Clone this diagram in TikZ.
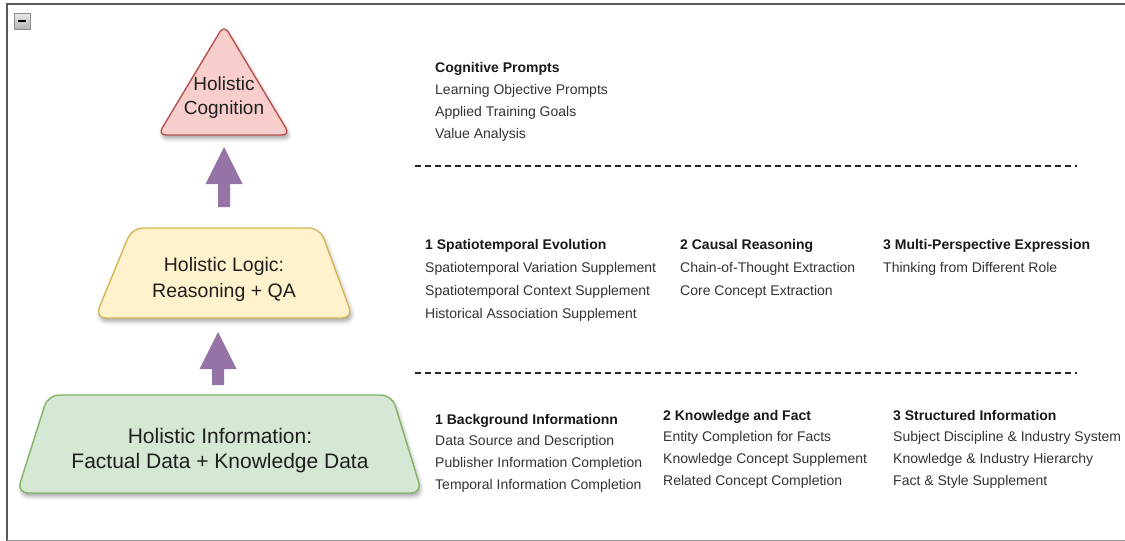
\documentclass[tikz,border=0pt]{standalone}
\usepackage{fontspec}
\setmainfont{Liberation Sans}
\usetikzlibrary{calc,shadows.blur}
\definecolor{cogfill}{HTML}{F8CECC}
\definecolor{cogdraw}{HTML}{B85450}
\definecolor{logfill}{HTML}{FFF2CC}
\definecolor{logdraw}{HTML}{D6B656}
\definecolor{inffill}{HTML}{D5E8D4}
\definecolor{infdraw}{HTML}{82B366}
\definecolor{arrfill}{HTML}{9673A6}
\tikzset{
  item/.style={anchor=base west, inner sep=0pt, font=\fontsize{14}{16}\selectfont, text=black!80},
  head/.style={item, font=\fontsize{14}{16}\selectfont\bfseries, text=black!90},
  layer/.style={line width=1.4pt, rounded corners=11pt,
    blur shadow={shadow xshift=1.5pt, shadow yshift=-3.5pt, shadow blur radius=4pt, shadow opacity=35}},
  big/.style={align=center, inner sep=0pt, text=black!88},
  uparr/.style={fill=arrfill},
  sep/.style={line width=1.2pt, dash pattern=on 6pt off 4pt, black!85}
}
\begin{document}
\begin{tikzpicture}[x=1pt,y=-1pt]
  \useasboundingbox (0,0) rectangle (1125,541);
  % window frame and collapse button
  \draw[black!65,line width=2pt] (1125,4) -- (7,4) -- (7,541);
  \draw[black!40,line width=1pt] (7,540) -- (1125,540);
  \draw[black!45,top color=black!8,bottom color=black!30] (14,13) rectangle (30,29);
  \draw[line width=1.5pt] (18,21) -- (26,21);
  % the three layers (start mid edge so every corner gets rounded)
  \draw[layer,rounded corners=8pt,draw=cogdraw,fill=cogfill] (224,135) -- (290,135) -- (224,25) -- (158,135) -- cycle;
  \draw[layer,draw=logdraw,fill=logfill] (224,318) -- (353,318) -- (320,228) -- (132,228) -- (95,318) -- cycle;
  \draw[layer,draw=infdraw,fill=inffill] (220,493) -- (422,493) -- (392,395) -- (48,395) -- (17,493) -- cycle;
  \node[big,font=\fontsize{19}{24}\selectfont] (cog) at (224,98) {Holistic\\Cognition};
  \node[big,font=\fontsize{19.5}{26}\selectfont] (logic) at (224,279) {Holistic Logic:\\Reasoning + QA};
  \node[big,font=\fontsize{21}{25}\selectfont] (info) at (220,451) {Holistic Information:\\Factual Data + Knowledge Data};
  % block arrows between layers
  \coordinate (a1tip) at (224,147);
  \coordinate (a1tail) at (224,207);
  \coordinate (a2tip) at (218,332);
  \coordinate (a2tail) at (218,385);
  \foreach \n in {1,2}{
    \fill[uparr] ($(a\n tail)+(-6,0)$) -- ($(a\n tip)+(-6,37)$) -- ($(a\n tip)+(-18.5,37)$)
      -- (a\n tip) -- ($(a\n tip)+(18.5,37)$) -- ($(a\n tip)+(6,37)$) -- ($(a\n tail)+(6,0)$) -- cycle;}
  % separators
  \draw[sep] (415,166) -- (1077,166);
  \draw[sep] (415,373) -- (1077,373);
  % cognition
  \node[head] (cp) at (435,72) {Cognitive Prompts};
  \foreach \t [count=\i] in {Learning Objective Prompts,Applied Training Goals,Value Analysis}
    \node[item] (cp-\i) at (435,72+22*\i) {\t};
  % logic
  \node[head] (se) at (425,249) {1 Spatiotemporal Evolution};
  \foreach \t [count=\i] in {Spatiotemporal Variation Supplement,Spatiotemporal Context Supplement,Historical Association Supplement}
    \node[item] (se-\i) at (425,249+23.3*\i) {\t};
  \node[head] (cr) at (680,249) {2 Causal Reasoning};
  \foreach \t [count=\i] in {Chain-of-Thought Extraction,Core Concept Extraction}
    \node[item] (cr-\i) at (680,249+23.3*\i) {\t};
  \node[head] (mp) at (883,249) {3 Multi-Perspective Expression};
  \node[item] (mp-1) at (883,272.3) {Thinking from Different Role};
  % information
  \node[head] (bi) at (435,424) {1 Background Informationn};
  \foreach \t [count=\i] in {Data Source and Description,Publisher Information Completion,Temporal Information Completion}
    \node[item] (bi-\i) at (435,424+21.7*\i) {\t};
  \node[head] (kf) at (663,420) {2 Knowledge and Fact};
  \foreach \t [count=\i] in {Entity Completion for Facts,Knowledge Concept Supplement,Related Concept Completion}
    \node[item] (kf-\i) at (663,420+21.7*\i) {\t};
  \node[head] (si) at (893,420) {3 Structured Information};
  \foreach \t [count=\i] in {Subject Discipline \& Industry System,Knowledge \& Industry Hierarchy,Fact \& Style Supplement}
    \node[item] (si-\i) at (893,420+21.7*\i) {\t};
\end{tikzpicture}
\end{document}
